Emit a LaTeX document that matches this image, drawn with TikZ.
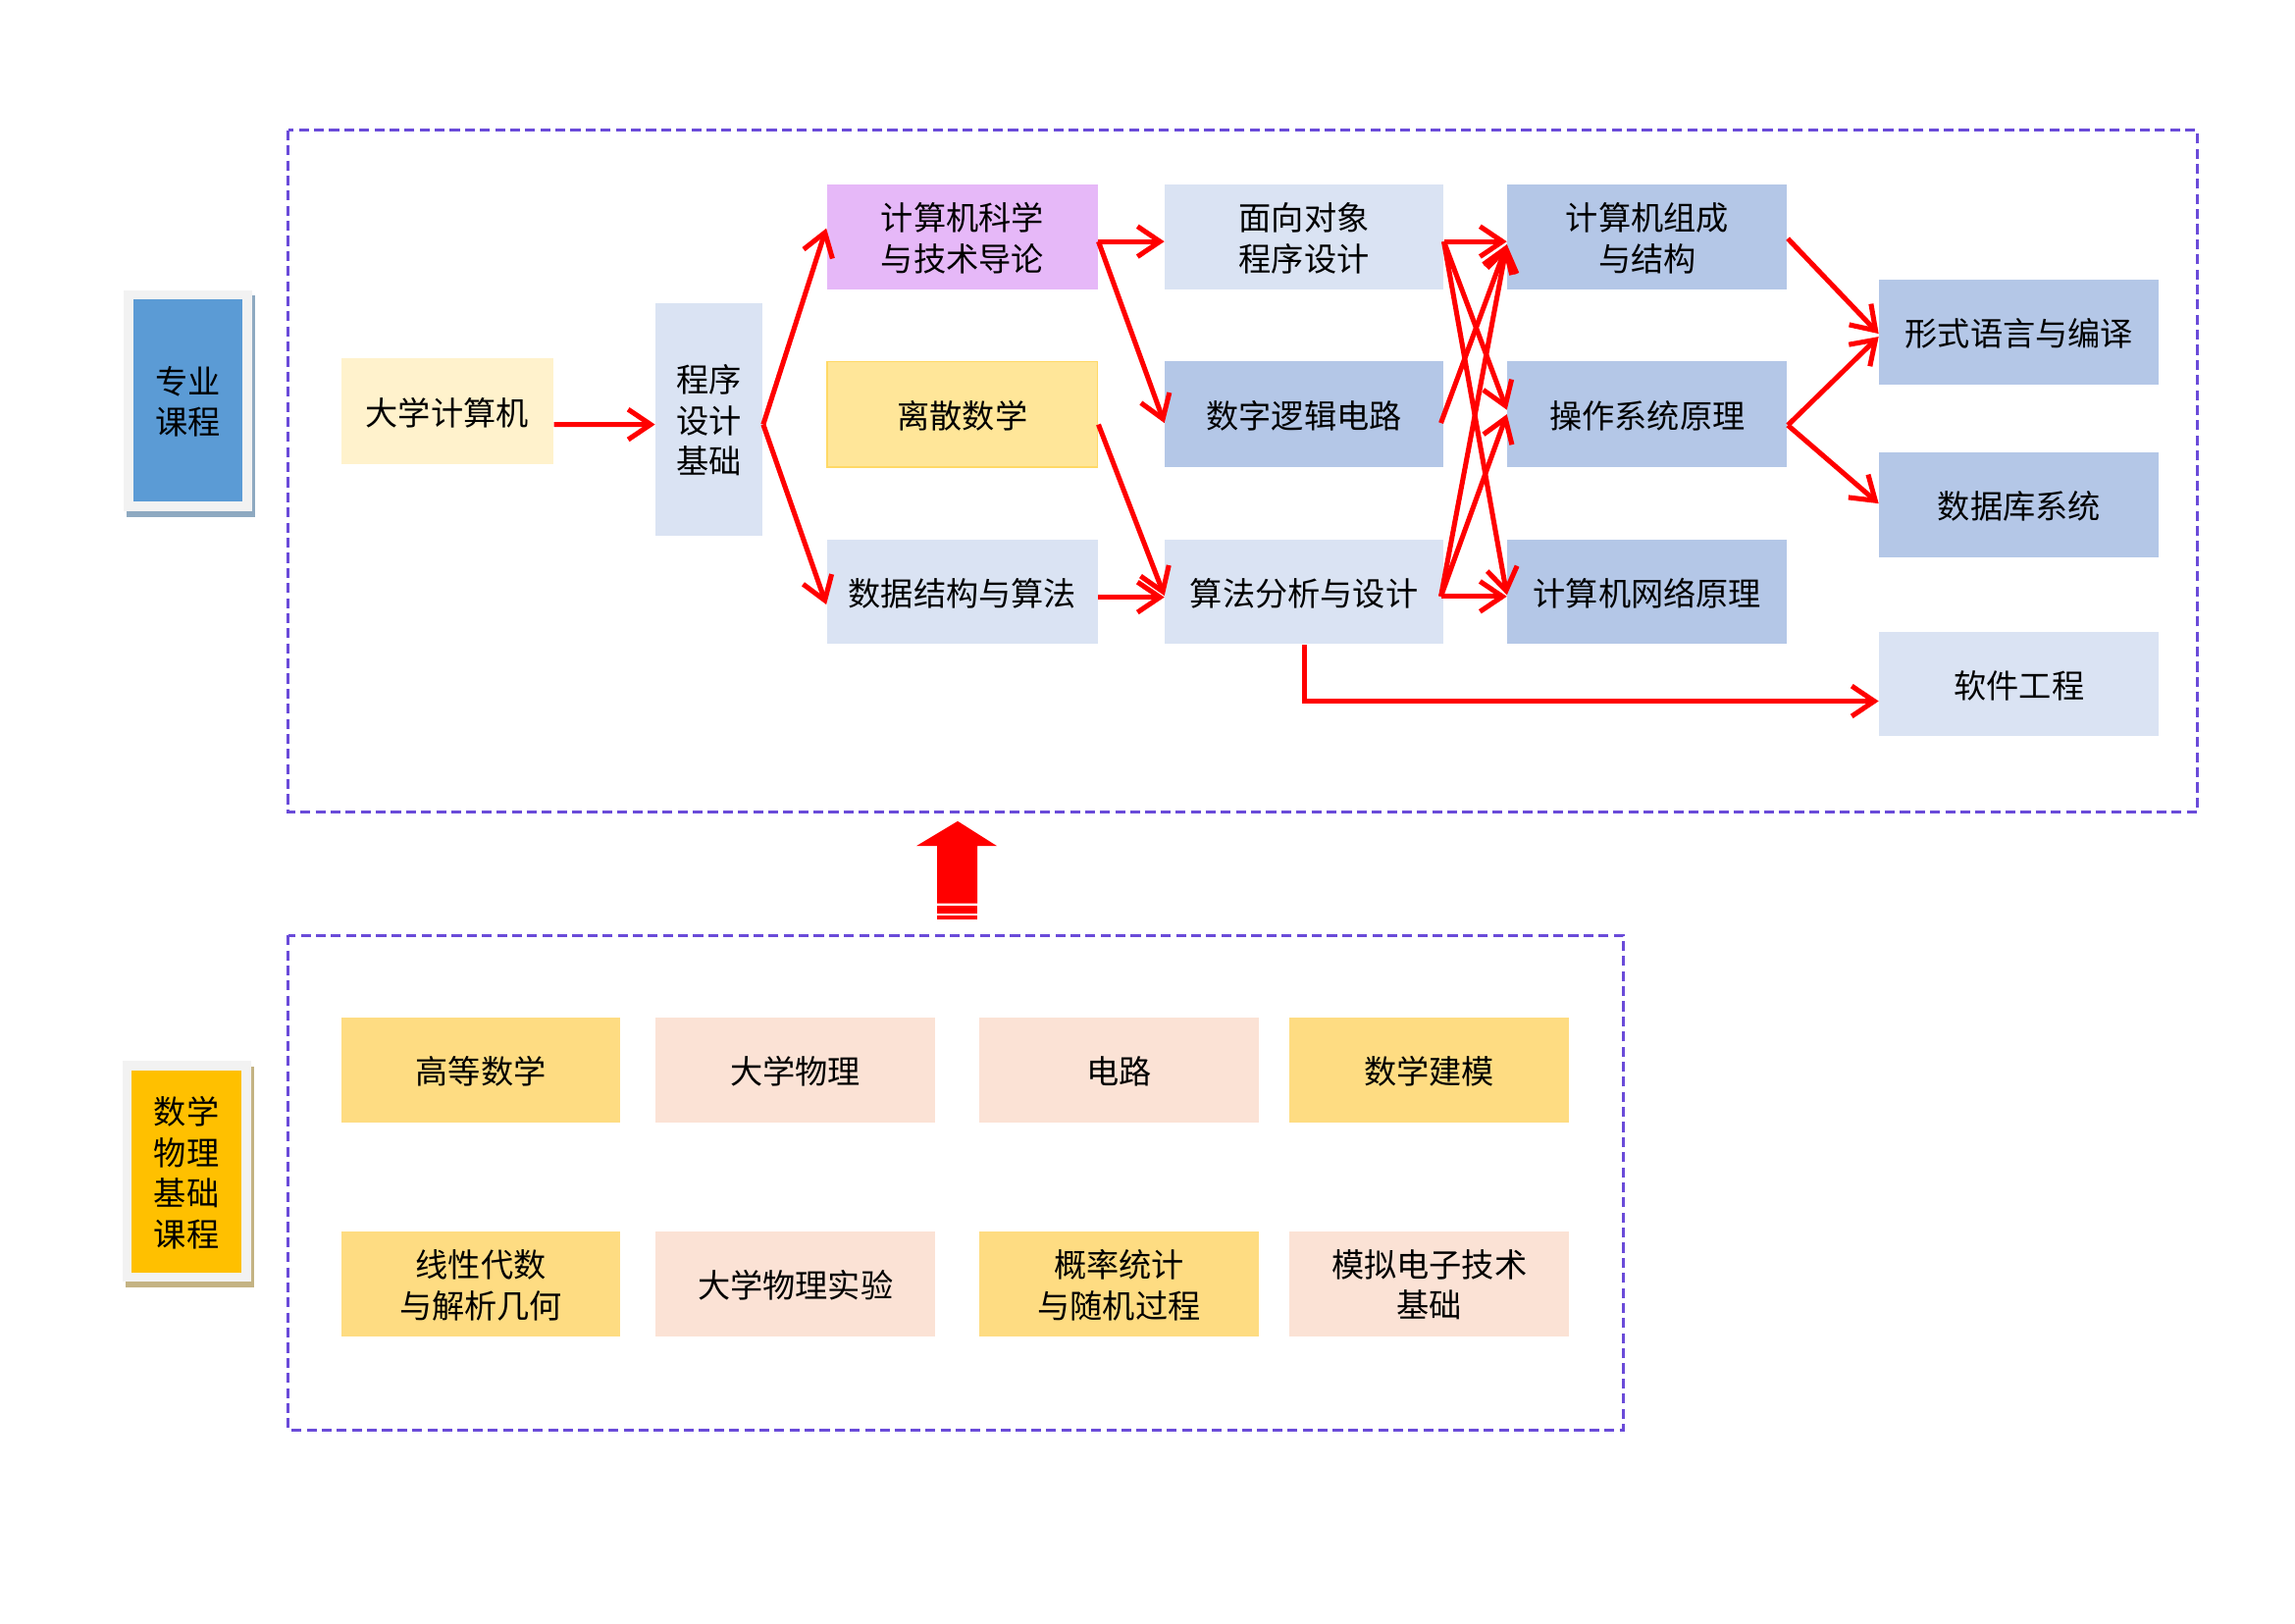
\documentclass[tikz,border=0pt]{standalone}
\usepackage{fontspec}
\newfontfamily\cjk{Noto Sans CJK SC}
\usetikzlibrary{arrows.meta,calc}

\definecolor{lightblue}{HTML}{DAE3F3}
\definecolor{midblue}{HTML}{B4C7E7}
\definecolor{paleyellow}{HTML}{FFF2CC}
\definecolor{lilac}{HTML}{E6B8F8}
\definecolor{softyellow}{HTML}{FFE699}
\definecolor{softyellowline}{HTML}{FFD966}
\definecolor{mathyellow}{HTML}{FEDC82}
\definecolor{peach}{HTML}{FBE2D5}
\definecolor{labelblue}{HTML}{5B9BD5}
\definecolor{labelorange}{HTML}{FFC000}
\definecolor{framegray}{HTML}{F2F2F2}
\definecolor{shadowblue}{HTML}{8EA9C1}
\definecolor{shadowtan}{HTML}{C4B383}
\definecolor{dashpurple}{HTML}{6A4BD9}
\definecolor{flowred}{HTML}{FF0000}

\begin{document}
\begin{tikzpicture}[x=0.015cm,y=-0.015cm,
  course/.style 2 args={draw=none, minimum width=#1*0.015cm, minimum height=#2*0.015cm,
    inner sep=0pt, align=center, text=black, font=\cjk\fontsize{9.5}{11.9}\selectfont,
    text depth=0pt},
  arr/.style={draw=flowred, line width=1.45pt,
    -{Straight Barb[length=0.23cm, width=0.31cm, line width=1.45pt]}},
  group/.style={draw=dashpurple, line width=0.85pt, dash pattern=on 2.9pt off 1.5pt},
]
\useasboundingbox (0,0) rectangle (1568,1109);

% group frames
\draw[group] (197,89) rectangle (1501,555);
\draw[group] (197,639) rectangle (1109,977);

% side labels with frame and shadow
\fill[shadowblue] (86.7,202.1) rectangle (174.3,353.0);
\fill[framegray] (84.5,198.4) rectangle (172.3,349.3);
\node[course={74.4}{138.1}, fill=labelblue] (major) at (128.4,273.55) {专业\\课程};

\fill[shadowtan] (86.0,728.4) rectangle (173.6,879.2);
\fill[framegray] (83.8,724.7) rectangle (171.6,875.5);
\node[course={75.2}{138.1}, fill=labelorange] (basic) at (127.4,800.45) {数学\\物理\\基础\\课程};

% professional courses
\node[course={145}{72}, fill=paleyellow] (ucs) at (305.5,281) {大学计算机};
\node[course={73}{159}, fill=lightblue] (prog) at (484.5,286.5) {程序\\设计\\基础};

\node[course={185}{72}, fill=lilac] (intro) at (657.5,162) {计算机科学\\与技术导论};
\node[course={185}{72}, fill=softyellow, draw=softyellowline, line width=0.4pt] (disc) at (657.5,283) {离散数学};
\node[course={185}{71}, fill=lightblue] (dsa) at (657.5,404.5) {数据结构与算法};

\node[course={190}{72}, fill=lightblue] (oop) at (891,162) {面向对象\\程序设计};
\node[course={190}{72}, fill=midblue] (logic) at (891,283) {数字逻辑电路};
\node[course={190}{71}, fill=lightblue] (algo) at (891,404.5) {算法分析与设计};

\node[course={191}{72}, fill=midblue] (arch) at (1125.5,162) {计算机组成\\与结构};
\node[course={191}{72}, fill=midblue] (os) at (1125.5,283) {操作系统原理};
\node[course={191}{71}, fill=midblue] (net) at (1125.5,404.5) {计算机网络原理};

\node[course={191}{72}, fill=midblue] (comp) at (1379.5,227) {形式语言与编译};
\node[course={191}{72}, fill=midblue] (dbs) at (1379.5,345) {数据库系统};
\node[course={191}{71}, fill=lightblue] (swe) at (1379.5,467.5) {软件工程};

% prerequisite links
\draw[arr] ($(ucs.east)+(0,9)$) -- ($(prog.west)+(0,3.5)$);
\draw[arr] ($(prog.east)+(0,3.5)$) -- ($(intro.west)+(0,-6)$);
\draw[arr] ($(prog.east)+(0,3.5)$) -- ($(dsa.west)+(0,8.5)$);

\draw[arr] ($(intro.east)+(0,3)$) -- ($(oop.west)+(0,3)$);
\draw[arr] ($(intro.east)+(0,3)$) -- ($(logic.west)+(0,6)$);
\draw[arr] ($(disc.east)+(0,7)$) -- ($(algo.west)+(0,2.5)$);
\draw[arr] ($(dsa.east)+(0,3.5)$) -- ($(algo.west)+(0,3.5)$);

\draw[arr] ($(oop.east)+(0,3)$) -- ($(arch.west)+(0,3)$);
\draw[arr] ($(oop.east)+(0,3)$) -- ($(os.west)+(0,-3)$);
\draw[arr] ($(oop.east)+(0,3)$) -- ($(net.west)+(0,2)$);
\draw[arr] ($(logic.east)+(-2,6)$) -- ($(arch.west)+(0,5)$);
\draw[arr] ($(algo.east)+(-2,3)$) -- ($(arch.west)+(0,5)$);
\draw[arr] ($(algo.east)+(-2,3)$) -- ($(os.west)+(0,0)$);
\draw[arr] ($(algo.east)+(-2,3)$) -- ($(net.west)+(0,3)$);

\draw[arr] ($(arch.east)+(0,1)$) -- ($(comp.west)+(0,1)$);
\draw[arr] ($(os.east)+(0,7.5)$) -- ($(comp.west)+(0,3)$);
\draw[arr] ($(os.east)+(0,7.5)$) -- ($(dbs.west)+(0,-1)$);
\draw[arr] (algo.south) |- ($(swe.west)+(0,11.5)$);

% basic courses
\node[course={191}{72}, fill=mathyellow] (calc) at (328.5,731) {高等数学};
\node[course={191}{72}, fill=peach] (phys) at (543.5,731) {大学物理};
\node[course={191}{72}, fill=peach] (circ) at (764.5,731) {电路};
\node[course={191}{72}, fill=mathyellow] (model) at (976.5,731) {数学建模};

\node[course={191}{72}, fill=mathyellow] (linalg) at (328.5,877) {线性代数\\与解析几何};
\node[course={191}{72}, fill=peach] (physlab) at (543.5,877) {大学物理实验};
\node[course={191}{72}, fill=mathyellow] (prob) at (764.5,877) {概率统计\\与随机过程};
\node[course={191}{72}, fill=peach] (analog) at (976.5,877) {模拟电子技术\\基础};

% block arrow: basic courses support the major courses
\fill[flowred] (654.3,561) -- (681.2,578) -- (667.7,578) -- (667.7,617.2)
  -- (640.2,617.2) -- (640.2,578) -- (626,578) -- cycle;
\fill[flowred] (640.2,618.8) rectangle (667.7,624);
\fill[flowred] (640.2,625.5) rectangle (667.7,628.2);
\end{tikzpicture}
\end{document}
